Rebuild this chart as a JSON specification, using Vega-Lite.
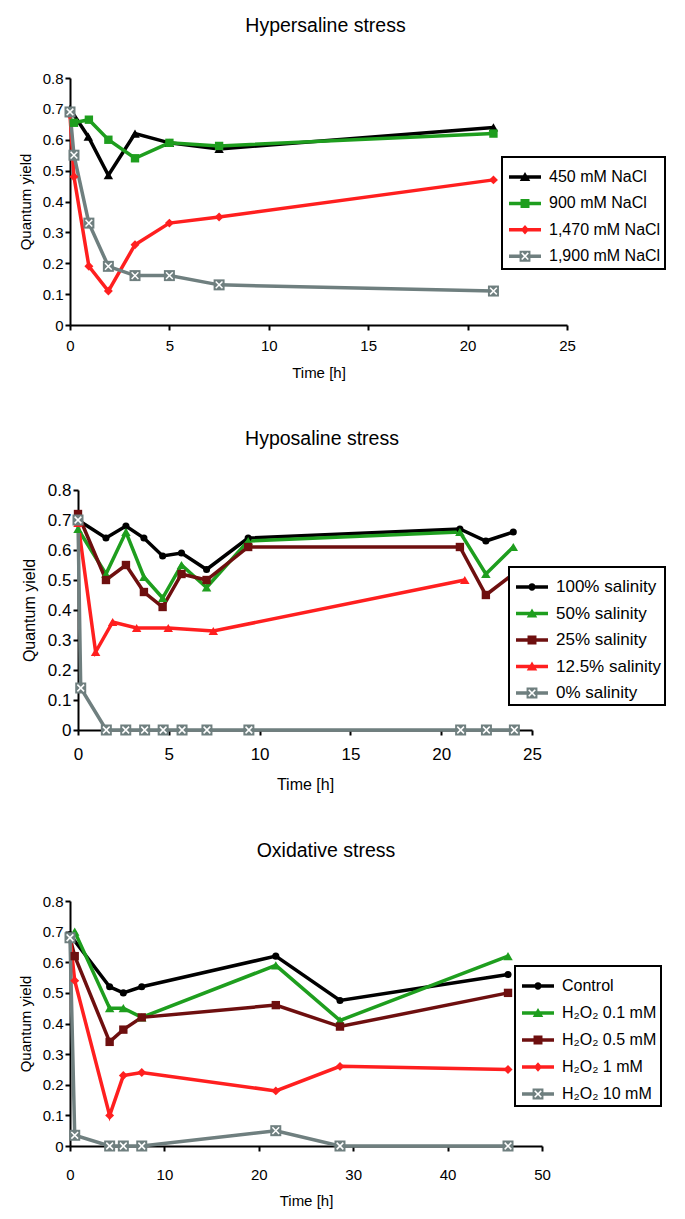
{
  "$schema": "https://vega.github.io/schema/vega-lite/v6.json",
  "background": "white",
  "padding": {"left": 18, "top": 15, "right": 5, "bottom": 5},
  "spacing": 48,
  "columns": 1,
  "config": {
    "font": "Liberation Sans",
    "view": {"stroke": null},
    "axis": {"domainColor": "black", "domainWidth": 2, "tickColor": "black", "tickWidth": 2, "tickSize": 5, "grid": false, "labelColor": "black", "titleColor": "black", "titleFontWeight": "normal", "labelFont": "Liberation Sans", "titleFont": "Liberation Sans"},
    "title": {"fontSize": 19.5, "fontWeight": "normal", "color": "black", "font": "Liberation Sans"},
    "legend": {"labelFont": "Liberation Sans", "labelColor": "black", "title": null, "orient": "none", "symbolSize": 1024, "padding": 4, "symbolOffset": 3, "rowPadding": 2, "labelFontSize": 16, "labelOffset": 8, "strokeColor": "black", "fillColor": "white", "symbolStrokeWidth": 0}
  },
  "datasets": {
    "hyper": [
      {"s": "450 mM NaCl", "t": 0, "q": 0.70},
      {"s": "450 mM NaCl", "t": 0.92, "q": 0.61},
      {"s": "450 mM NaCl", "t": 1.93, "q": 0.485},
      {"s": "450 mM NaCl", "t": 3.27, "q": 0.62},
      {"s": "450 mM NaCl", "t": 5, "q": 0.59},
      {"s": "450 mM NaCl", "t": 7.5, "q": 0.57},
      {"s": "450 mM NaCl", "t": 21.3, "q": 0.64},
      {"s": "900 mM NaCl", "t": 0.2, "q": 0.655},
      {"s": "900 mM NaCl", "t": 0.95, "q": 0.665},
      {"s": "900 mM NaCl", "t": 1.93, "q": 0.60},
      {"s": "900 mM NaCl", "t": 3.27, "q": 0.54},
      {"s": "900 mM NaCl", "t": 5, "q": 0.59},
      {"s": "900 mM NaCl", "t": 7.5, "q": 0.58},
      {"s": "900 mM NaCl", "t": 21.3, "q": 0.62},
      {"s": "1,470 mM NaCl", "t": 0, "q": 0.68},
      {"s": "1,470 mM NaCl", "t": 0.2, "q": 0.48},
      {"s": "1,470 mM NaCl", "t": 0.95, "q": 0.19},
      {"s": "1,470 mM NaCl", "t": 1.93, "q": 0.11},
      {"s": "1,470 mM NaCl", "t": 3.27, "q": 0.26},
      {"s": "1,470 mM NaCl", "t": 5, "q": 0.33},
      {"s": "1,470 mM NaCl", "t": 7.5, "q": 0.35},
      {"s": "1,470 mM NaCl", "t": 21.3, "q": 0.47},
      {"s": "1,900 mM NaCl", "t": 0, "q": 0.69},
      {"s": "1,900 mM NaCl", "t": 0.2, "q": 0.55},
      {"s": "1,900 mM NaCl", "t": 0.95, "q": 0.33},
      {"s": "1,900 mM NaCl", "t": 1.93, "q": 0.19},
      {"s": "1,900 mM NaCl", "t": 3.27, "q": 0.16},
      {"s": "1,900 mM NaCl", "t": 5, "q": 0.16},
      {"s": "1,900 mM NaCl", "t": 7.5, "q": 0.13},
      {"s": "1,900 mM NaCl", "t": 21.3, "q": 0.11}
    ],
    "hypo": [
      {"s": "100% salinity", "t": 0, "q": 0.70},
      {"s": "100% salinity", "t": 1.54, "q": 0.64},
      {"s": "100% salinity", "t": 2.64, "q": 0.68},
      {"s": "100% salinity", "t": 3.63, "q": 0.64},
      {"s": "100% salinity", "t": 4.66, "q": 0.58},
      {"s": "100% salinity", "t": 5.7, "q": 0.59},
      {"s": "100% salinity", "t": 7.08, "q": 0.535},
      {"s": "100% salinity", "t": 9.37, "q": 0.64},
      {"s": "100% salinity", "t": 21.03, "q": 0.67},
      {"s": "100% salinity", "t": 22.46, "q": 0.63},
      {"s": "100% salinity", "t": 23.97, "q": 0.66},
      {"s": "50% salinity", "t": 0, "q": 0.67},
      {"s": "50% salinity", "t": 1.54, "q": 0.52},
      {"s": "50% salinity", "t": 2.64, "q": 0.66},
      {"s": "50% salinity", "t": 3.63, "q": 0.51},
      {"s": "50% salinity", "t": 4.66, "q": 0.44},
      {"s": "50% salinity", "t": 5.7, "q": 0.55},
      {"s": "50% salinity", "t": 7.08, "q": 0.475},
      {"s": "50% salinity", "t": 9.37, "q": 0.63},
      {"s": "50% salinity", "t": 21.03, "q": 0.66},
      {"s": "50% salinity", "t": 22.46, "q": 0.52},
      {"s": "50% salinity", "t": 23.97, "q": 0.61},
      {"s": "25% salinity", "t": 0, "q": 0.72},
      {"s": "25% salinity", "t": 1.54, "q": 0.50},
      {"s": "25% salinity", "t": 2.64, "q": 0.55},
      {"s": "25% salinity", "t": 3.63, "q": 0.46},
      {"s": "25% salinity", "t": 4.66, "q": 0.41},
      {"s": "25% salinity", "t": 5.7, "q": 0.52},
      {"s": "25% salinity", "t": 7.08, "q": 0.50},
      {"s": "25% salinity", "t": 9.37, "q": 0.61},
      {"s": "25% salinity", "t": 21.03, "q": 0.61},
      {"s": "25% salinity", "t": 22.46, "q": 0.45},
      {"s": "25% salinity", "t": 23.97, "q": 0.52},
      {"s": "12.5% salinity", "t": 0, "q": 0.69},
      {"s": "12.5% salinity", "t": 0.97, "q": 0.26},
      {"s": "12.5% salinity", "t": 1.91, "q": 0.36},
      {"s": "12.5% salinity", "t": 3.23, "q": 0.34},
      {"s": "12.5% salinity", "t": 4.97, "q": 0.34},
      {"s": "12.5% salinity", "t": 7.45, "q": 0.33},
      {"s": "12.5% salinity", "t": 21.3, "q": 0.50},
      {"s": "0% salinity", "t": 0, "q": 0.70},
      {"s": "0% salinity", "t": 0.15, "q": 0.14},
      {"s": "0% salinity", "t": 1.56, "q": 0},
      {"s": "0% salinity", "t": 2.63, "q": 0},
      {"s": "0% salinity", "t": 3.67, "q": 0},
      {"s": "0% salinity", "t": 4.69, "q": 0},
      {"s": "0% salinity", "t": 5.73, "q": 0},
      {"s": "0% salinity", "t": 7.1, "q": 0},
      {"s": "0% salinity", "t": 9.41, "q": 0},
      {"s": "0% salinity", "t": 21.07, "q": 0},
      {"s": "0% salinity", "t": 22.49, "q": 0},
      {"s": "0% salinity", "t": 24.03, "q": 0}
    ],
    "oxid": [
      {"s": "Control", "t": 0, "q": 0.69},
      {"s": "Control", "t": 4.2, "q": 0.52},
      {"s": "Control", "t": 5.65, "q": 0.50},
      {"s": "Control", "t": 7.6, "q": 0.52},
      {"s": "Control", "t": 21.8, "q": 0.62},
      {"s": "Control", "t": 28.6, "q": 0.475},
      {"s": "Control", "t": 46.4, "q": 0.56},
      {"s": "H₂O₂ 0.1 mM", "t": 0.5, "q": 0.70},
      {"s": "H₂O₂ 0.1 mM", "t": 4.2, "q": 0.45},
      {"s": "H₂O₂ 0.1 mM", "t": 5.65, "q": 0.45},
      {"s": "H₂O₂ 0.1 mM", "t": 7.6, "q": 0.42},
      {"s": "H₂O₂ 0.1 mM", "t": 21.8, "q": 0.59},
      {"s": "H₂O₂ 0.1 mM", "t": 28.6, "q": 0.41},
      {"s": "H₂O₂ 0.1 mM", "t": 46.4, "q": 0.62},
      {"s": "H₂O₂ 0.5 mM", "t": 0, "q": 0.68},
      {"s": "H₂O₂ 0.5 mM", "t": 0.5, "q": 0.62},
      {"s": "H₂O₂ 0.5 mM", "t": 4.2, "q": 0.34},
      {"s": "H₂O₂ 0.5 mM", "t": 5.65, "q": 0.38},
      {"s": "H₂O₂ 0.5 mM", "t": 7.6, "q": 0.42},
      {"s": "H₂O₂ 0.5 mM", "t": 21.8, "q": 0.46},
      {"s": "H₂O₂ 0.5 mM", "t": 28.6, "q": 0.39},
      {"s": "H₂O₂ 0.5 mM", "t": 46.4, "q": 0.50},
      {"s": "H₂O₂ 1 mM", "t": 0, "q": 0.68},
      {"s": "H₂O₂ 1 mM", "t": 0.5, "q": 0.54},
      {"s": "H₂O₂ 1 mM", "t": 4.2, "q": 0.10},
      {"s": "H₂O₂ 1 mM", "t": 5.65, "q": 0.23},
      {"s": "H₂O₂ 1 mM", "t": 7.6, "q": 0.24},
      {"s": "H₂O₂ 1 mM", "t": 21.8, "q": 0.18},
      {"s": "H₂O₂ 1 mM", "t": 28.6, "q": 0.26},
      {"s": "H₂O₂ 1 mM", "t": 46.4, "q": 0.25},
      {"s": "H₂O₂ 10 mM", "t": 0, "q": 0.68},
      {"s": "H₂O₂ 10 mM", "t": 0.5, "q": 0.035},
      {"s": "H₂O₂ 10 mM", "t": 4.2, "q": 0},
      {"s": "H₂O₂ 10 mM", "t": 5.65, "q": 0},
      {"s": "H₂O₂ 10 mM", "t": 7.6, "q": 0},
      {"s": "H₂O₂ 10 mM", "t": 21.8, "q": 0.05},
      {"s": "H₂O₂ 10 mM", "t": 28.6, "q": 0},
      {"s": "H₂O₂ 10 mM", "t": 46.4, "q": 0}
    ]
  },
  "concat": [
    {
      "title": {"text": "Hypersaline stress", "offset": 35, "dx": 7},
      "width": 497,
      "height": 247,
      "data": {"name": "hyper"},
      "encoding": {
        "x": {"field": "t", "type": "quantitative", "scale": {"domain": [0, 25], "nice": false}, "axis": {"values": [0, 5, 10, 15, 20, 25], "title": "Time [h]", "labelFontSize": 15, "titleFontSize": 15, "labelPadding": 8, "titlePadding": 12, "labelFlush": false}},
        "y": {"field": "q", "type": "quantitative", "scale": {"domain": [0, 0.8], "nice": false}, "axis": {"values": [0, 0.1, 0.2, 0.3, 0.4, 0.5, 0.6, 0.7, 0.8], "format": ".1~f", "title": "Quantum yield", "labelFontSize": 15, "titleFontSize": 15, "labelPadding": 2, "titlePadding": 9}}
      },
      "layer": [
        {
          "mark": {"type": "line", "strokeWidth": 3.5},
          "encoding": {
            "color": {"field": "s", "type": "nominal", "scale": {"domain": ["450 mM NaCl", "900 mM NaCl", "1,470 mM NaCl", "1,900 mM NaCl"], "range": ["#000000", "#1e9e1e", "#ff1f1f", "#6f7f7f"]},
              "legend": {"legendX": 432, "legendY": 79, "rowPadding": 2.4,
                "encoding": {
                  "legend": {"strokeWidth": {"value": 2}},
                  "symbols": {
                    "shape": {"value": {"expr": "datum.value === '450 mM NaCl' ? 'M-1,-0.11H1V0.11H-1ZM0,-0.31L0.33,0.25L-0.33,0.25Z' : datum.value === '900 mM NaCl' ? 'M-1,-0.11H1V0.11H-1ZM-0.28,-0.28H0.28V0.28H-0.28Z' : datum.value === '1,470 mM NaCl' ? 'M-1,-0.11H1V0.11H-1ZM0,-0.3L0.26,0L0,0.3L-0.26,0Z' : 'M-1,-0.11H-0.34V0.11H-1ZM0.34,-0.11H1V0.11H0.34ZM-0.34,-0.34H0.34V0.34H-0.34ZM-0.24,-0.17L-0.07,0L-0.24,0.17L-0.17,0.24L0,0.07L0.17,0.24L0.24,0.17L0.07,0L0.24,-0.17L0.17,-0.24L0,-0.07L-0.17,-0.24Z'"}},
                    "fill": {"value": {"expr": "datum.value === '450 mM NaCl' ? '#000000' : datum.value === '900 mM NaCl' ? '#1e9e1e' : datum.value === '1,470 mM NaCl' ? '#ff1f1f' : '#6f7f7f'"}},
                    "stroke": {"value": "transparent"},
                    "strokeWidth": {"value": 0},
                    "size": {"value": 1024},
                    "opacity": {"value": 1}
                  }
                }
              }
            }
          }
        },
        {
          "transform": [{"filter": {"field": "s", "oneOf": ["450 mM NaCl"]}}],
          "mark": {"type": "point", "filled": true, "opacity": 1, "shape": "triangle-up", "size": 90},
          "encoding": {"color": {"field": "s", "type": "nominal", "legend": null}}
        },
        {
          "transform": [{"filter": {"field": "s", "oneOf": ["900 mM NaCl"]}}],
          "mark": {"type": "point", "filled": true, "opacity": 1, "shape": "square", "size": 70},
          "encoding": {"color": {"field": "s", "type": "nominal", "legend": null}}
        },
        {
          "transform": [{"filter": {"field": "s", "oneOf": ["1,470 mM NaCl"]}}],
          "mark": {"type": "point", "filled": true, "opacity": 1, "shape": "diamond", "size": 80},
          "encoding": {"color": {"field": "s", "type": "nominal", "legend": null}}
        },
        {
          "transform": [{"filter": {"field": "s", "oneOf": ["1,900 mM NaCl"]}}],
          "mark": {"type": "point", "filled": true, "opacity": 1, "shape": "square", "size": 121},
          "encoding": {"color": {"field": "s", "type": "nominal", "legend": null}}
        },
        {
          "transform": [{"filter": {"field": "s", "oneOf": ["1,900 mM NaCl"]}}],
          "mark": {"type": "point", "shape": "M-1,-1L1,1M1,-1L-1,1", "filled": false, "stroke": "white", "strokeWidth": 1.5, "size": 45, "opacity": 1},
          "encoding": {}
        }
      ]
    },
    {
      "title": {"text": "Hyposaline stress", "offset": 32, "dx": 21},
      "width": 462,
      "height": 240,
      "data": {"name": "hypo"},
      "encoding": {
        "x": {"field": "t", "type": "quantitative", "scale": {"domain": [0, 25], "nice": false, "range": [8, 462]}, "axis": {"values": [0, 5, 10, 15, 20, 25], "title": "Time [h]", "labelFontSize": 17, "titleFontSize": 16, "labelPadding": 11, "titlePadding": 14, "labelFlush": false}},
        "y": {"field": "q", "type": "quantitative", "scale": {"domain": [0, 0.8], "nice": false}, "axis": {"offset": -8, "values": [0, 0.1, 0.2, 0.3, 0.4, 0.5, 0.6, 0.7, 0.8], "format": ".1~f", "title": "Quantum yield", "labelFontSize": 17, "titleFontSize": 16, "labelPadding": 2, "titlePadding": 10}}
      },
      "layer": [
        {
          "mark": {"type": "line", "strokeWidth": 3.5},
          "encoding": {
            "color": {"field": "s", "type": "nominal", "scale": {"domain": ["100% salinity", "50% salinity", "25% salinity", "12.5% salinity", "0% salinity"], "range": ["#000000", "#1e9e1e", "#6e0f0f", "#ff1f1f", "#6f7f7f"]},
              "legend": {"legendX": 439, "legendY": 77, "labelFontSize": 17, "rowPadding": 2.5,
                "encoding": {
                  "legend": {"strokeWidth": {"value": 2}},
                  "symbols": {
                    "shape": {"value": {"expr": "datum.value === '100% salinity' ? 'M-1,-0.11H1V0.11H-1ZM-0.23,0A0.23,0.23,0,1,1,0.23,0A0.23,0.23,0,1,1,-0.23,0Z' : datum.value === '50% salinity' ? 'M-1,-0.11H1V0.11H-1ZM0,-0.31L0.33,0.25L-0.33,0.25Z' : datum.value === '25% salinity' ? 'M-1,-0.11H1V0.11H-1ZM-0.28,-0.28H0.28V0.28H-0.28Z' : datum.value === '12.5% salinity' ? 'M-1,-0.11H1V0.11H-1ZM0,-0.31L0.33,0.25L-0.33,0.25Z' : 'M-1,-0.11H-0.34V0.11H-1ZM0.34,-0.11H1V0.11H0.34ZM-0.34,-0.34H0.34V0.34H-0.34ZM-0.24,-0.17L-0.07,0L-0.24,0.17L-0.17,0.24L0,0.07L0.17,0.24L0.24,0.17L0.07,0L0.24,-0.17L0.17,-0.24L0,-0.07L-0.17,-0.24Z'"}},
                    "fill": {"value": {"expr": "datum.value === '100% salinity' ? '#000000' : datum.value === '50% salinity' ? '#1e9e1e' : datum.value === '25% salinity' ? '#6e0f0f' : datum.value === '12.5% salinity' ? '#ff1f1f' : '#6f7f7f'"}},
                    "stroke": {"value": "transparent"},
                    "strokeWidth": {"value": 0},
                    "size": {"value": 1024},
                    "opacity": {"value": 1}
                  }
                }
              }
            }
          }
        },
        {
          "transform": [{"filter": {"field": "s", "oneOf": ["100% salinity"]}}],
          "mark": {"type": "point", "filled": true, "opacity": 1, "shape": "circle", "size": 50},
          "encoding": {"color": {"field": "s", "type": "nominal", "legend": null}}
        },
        {
          "transform": [{"filter": {"field": "s", "oneOf": ["50% salinity", "12.5% salinity"]}}],
          "mark": {"type": "point", "filled": true, "opacity": 1, "shape": "triangle-up", "size": 90},
          "encoding": {"color": {"field": "s", "type": "nominal", "legend": null}}
        },
        {
          "transform": [{"filter": {"field": "s", "oneOf": ["25% salinity"]}}],
          "mark": {"type": "point", "filled": true, "opacity": 1, "shape": "square", "size": 70},
          "encoding": {"color": {"field": "s", "type": "nominal", "legend": null}}
        },
        {
          "transform": [{"filter": {"field": "s", "oneOf": ["0% salinity"]}}],
          "mark": {"type": "point", "filled": true, "opacity": 1, "shape": "square", "size": 121},
          "encoding": {"color": {"field": "s", "type": "nominal", "legend": null}}
        },
        {
          "transform": [{"filter": {"field": "s", "oneOf": ["0% salinity"]}}],
          "mark": {"type": "point", "shape": "M-1,-1L1,1M1,-1L-1,1", "filled": false, "stroke": "white", "strokeWidth": 1.5, "size": 45, "opacity": 1},
          "encoding": {}
        }
      ]
    },
    {
      "title": {"text": "Oxidative stress", "offset": 33, "dx": 20},
      "width": 472,
      "height": 245,
      "data": {"name": "oxid"},
      "encoding": {
        "x": {"field": "t", "type": "quantitative", "scale": {"domain": [0, 50], "nice": false}, "axis": {"values": [0, 10, 20, 30, 40, 50], "title": "Time [h]", "labelFontSize": 15, "titleFontSize": 15, "labelPadding": 16, "titlePadding": 11, "labelFlush": false}},
        "y": {"field": "q", "type": "quantitative", "scale": {"domain": [0, 0.8], "nice": false}, "axis": {"values": [0, 0.1, 0.2, 0.3, 0.4, 0.5, 0.6, 0.7, 0.8], "format": ".1~f", "title": "Quantum yield", "labelFontSize": 15, "titleFontSize": 15, "labelPadding": 2, "titlePadding": 9}}
      },
      "layer": [
        {
          "mark": {"type": "line", "strokeWidth": 3.5},
          "encoding": {
            "color": {"field": "s", "type": "nominal", "scale": {"domain": ["Control", "H₂O₂ 0.1 mM", "H₂O₂ 0.5 mM", "H₂O₂ 1 mM", "H₂O₂ 10 mM"], "range": ["#000000", "#1e9e1e", "#6e0f0f", "#ff1f1f", "#6f7f7f"]},
              "legend": {"legendX": 445, "legendY": 65, "rowPadding": 3,
                "encoding": {
                  "legend": {"strokeWidth": {"value": 2}},
                  "symbols": {
                    "shape": {"value": {"expr": "datum.value === 'Control' ? 'M-1,-0.11H1V0.11H-1ZM-0.23,0A0.23,0.23,0,1,1,0.23,0A0.23,0.23,0,1,1,-0.23,0Z' : datum.value === 'H₂O₂ 0.1 mM' ? 'M-1,-0.11H1V0.11H-1ZM0,-0.31L0.33,0.25L-0.33,0.25Z' : datum.value === 'H₂O₂ 0.5 mM' ? 'M-1,-0.11H1V0.11H-1ZM-0.28,-0.28H0.28V0.28H-0.28Z' : datum.value === 'H₂O₂ 1 mM' ? 'M-1,-0.11H1V0.11H-1ZM0,-0.3L0.26,0L0,0.3L-0.26,0Z' : 'M-1,-0.11H-0.34V0.11H-1ZM0.34,-0.11H1V0.11H0.34ZM-0.34,-0.34H0.34V0.34H-0.34ZM-0.24,-0.17L-0.07,0L-0.24,0.17L-0.17,0.24L0,0.07L0.17,0.24L0.24,0.17L0.07,0L0.24,-0.17L0.17,-0.24L0,-0.07L-0.17,-0.24Z'"}},
                    "fill": {"value": {"expr": "datum.value === 'Control' ? '#000000' : datum.value === 'H₂O₂ 0.1 mM' ? '#1e9e1e' : datum.value === 'H₂O₂ 0.5 mM' ? '#6e0f0f' : datum.value === 'H₂O₂ 1 mM' ? '#ff1f1f' : '#6f7f7f'"}},
                    "stroke": {"value": "transparent"},
                    "strokeWidth": {"value": 0},
                    "size": {"value": 1024},
                    "opacity": {"value": 1}
                  }
                }
              }
            }
          }
        },
        {
          "transform": [{"filter": {"field": "s", "oneOf": ["Control"]}}],
          "mark": {"type": "point", "filled": true, "opacity": 1, "shape": "circle", "size": 50},
          "encoding": {"color": {"field": "s", "type": "nominal", "legend": null}}
        },
        {
          "transform": [{"filter": {"field": "s", "oneOf": ["H₂O₂ 0.1 mM"]}}],
          "mark": {"type": "point", "filled": true, "opacity": 1, "shape": "triangle-up", "size": 90},
          "encoding": {"color": {"field": "s", "type": "nominal", "legend": null}}
        },
        {
          "transform": [{"filter": {"field": "s", "oneOf": ["H₂O₂ 0.5 mM"]}}],
          "mark": {"type": "point", "filled": true, "opacity": 1, "shape": "square", "size": 70},
          "encoding": {"color": {"field": "s", "type": "nominal", "legend": null}}
        },
        {
          "transform": [{"filter": {"field": "s", "oneOf": ["H₂O₂ 1 mM"]}}],
          "mark": {"type": "point", "filled": true, "opacity": 1, "shape": "diamond", "size": 80},
          "encoding": {"color": {"field": "s", "type": "nominal", "legend": null}}
        },
        {
          "transform": [{"filter": {"field": "s", "oneOf": ["H₂O₂ 10 mM"]}}],
          "mark": {"type": "point", "filled": true, "opacity": 1, "shape": "square", "size": 121},
          "encoding": {"color": {"field": "s", "type": "nominal", "legend": null}}
        },
        {
          "transform": [{"filter": {"field": "s", "oneOf": ["H₂O₂ 10 mM"]}}],
          "mark": {"type": "point", "shape": "M-1,-1L1,1M1,-1L-1,1", "filled": false, "stroke": "white", "strokeWidth": 1.5, "size": 45, "opacity": 1},
          "encoding": {}
        }
      ]
    }
  ],
  "resolve": {
    "scale": {"color": "independent", "x": "independent", "y": "independent"},
    "legend": {"color": "independent"}
  }
}
